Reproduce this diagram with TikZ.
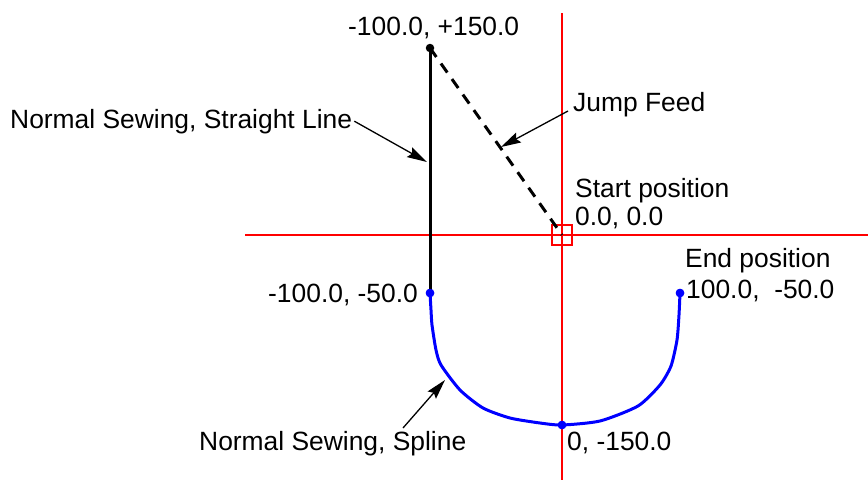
\documentclass[tikz,border=0pt]{standalone}
\usepackage{fontspec}
\setmainfont{Liberation Sans}
\usetikzlibrary{arrows.meta, calc}

\begin{document}
\begin{tikzpicture}[x=1pt, y=-1pt,
  lbl/.style={inner sep=0pt, anchor=base west, font=\fontsize{26.4}{30}\selectfont},
  pointer/.style={line width=1.3pt, -{Stealth[length=20pt, width=11pt, inset=3pt]}},
  dot/.style={circle, fill, inner sep=0pt, minimum size=8.5pt},
  axis/.style={red, line width=1.2pt}]
  \useasboundingbox (0,0) rectangle (868,480);
  % axes through the start position
  \draw[axis] (245,235) -- (868,235);
  \draw[axis] (562,13) -- (562,480);
  \node[draw=red, line width=2pt, minimum size=20pt, inner sep=0pt] (startbox) at (562,235) {};
  % points
  \node[dot] (topend) at (430,48) {};
  \node[dot, blue] (leftend) at (430,293) {};
  \node[dot, blue] (rightend) at (680,293) {};
  \node[dot, blue] (bottom) at (562,425) {};
  % straight line and jump feed
  \draw[line width=3pt] (topend.center) -- (leftend.center);
  \draw[line width=3pt, dash pattern=on 11pt off 8pt] (topend.center) -- (startbox.center);
  % spline
  \draw[blue, line width=3pt] plot[smooth, tension=0.4] coordinates {
    (430,293) (431,310) (432,325) (436,350) (441,365) (460,390) (483,408)
    (510,418) (540,423) (562,425) (600,421) (638,406) (660,385) (671,366)
    (677,340) (679,315) (680,293)};
  \node[dot, blue] at (leftend) {};
  \node[dot, blue] at (rightend) {};
  \node[dot, blue] at (bottom) {};
  % labels
  \node[lbl] (lbltop) at (348,35) {-100.0, +150.0};
  \node[lbl] (lblline) at (10,128) {Normal Sewing, Straight Line};
  \node[lbl] (lbljump) at (573,111) {Jump Feed};
  \node[lbl] (lblstart) at (575,197) {Start position};
  \node[lbl] (lblorig) at (575,225) {0.0, 0.0};
  \node[lbl] (lblend) at (685,267) {End position};
  \node[lbl] (lblendxy) at (686,298) {100.0,\ \ -50.0};
  \node[lbl] (lblleft) at (268,302) {-100.0, -50.0};
  \node[lbl] (lblspline) at (199,450) {Normal Sewing, Spline};
  \node[lbl] (lblbottom) at (567,450) {0, -150.0};
  % pointers
  \coordinate (tipline) at (427,162);
  \coordinate (tipjump) at (501,147);
  \coordinate (tipspline) at (445,380);
  \coordinate (tailspline) at (403,428);
  \draw[pointer] ([xshift=2pt]lblline.east) -- (tipline);
  \draw[pointer] ([xshift=-5pt]lbljump.base west) -- (tipjump);
  \draw[pointer] (tailspline) -- (tipspline);
\end{tikzpicture}
\end{document}
